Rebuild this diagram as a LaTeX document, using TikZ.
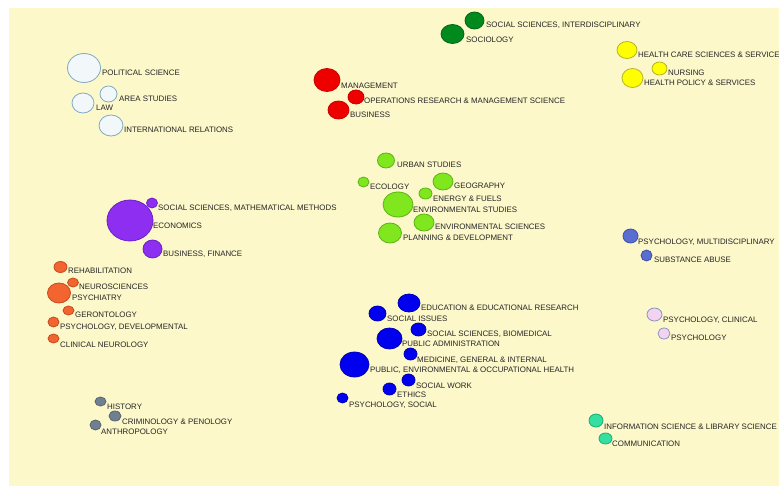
\documentclass[tikz,border=0pt]{standalone}
\usepackage{fontspec}
\setmainfont{Liberation Sans}
\usetikzlibrary{shapes.geometric}

\definecolor{paper}{HTML}{FCF8CA}
\definecolor{fieldtext}{HTML}{262626}
\definecolor{politicsfill}{HTML}{F2F7FA}
\definecolor{politicsline}{HTML}{7FAAC4}
\definecolor{businessfill}{HTML}{EE0000}
\definecolor{businessline}{HTML}{C80000}
\definecolor{sociofill}{HTML}{008A1E}
\definecolor{socioline}{HTML}{006414}
\definecolor{healthfill}{HTML}{FFFF00}
\definecolor{healthline}{HTML}{B4B428}
\definecolor{econfill}{HTML}{8E2EF0}
\definecolor{econline}{HTML}{6A20C8}
\definecolor{psychfill}{HTML}{F26430}
\definecolor{psychline}{HTML}{C84A1C}
\definecolor{envfill}{HTML}{80E61E}
\definecolor{envline}{HTML}{5AB414}
\definecolor{multifill}{HTML}{5A6ED2}
\definecolor{multiline}{HTML}{3C4EAA}
\definecolor{educfill}{HTML}{0000EE}
\definecolor{educline}{HTML}{0000B4}
\definecolor{histfill}{HTML}{708090}
\definecolor{histline}{HTML}{56646E}
\definecolor{clinicfill}{HTML}{F2D4F2}
\definecolor{clinicline}{HTML}{8C94C0}
\definecolor{infofill}{HTML}{34E0A0}
\definecolor{infoline}{HTML}{1EAA78}

\tikzstyle{bubble}=[ellipse, inner sep=0, line width=0.8pt]
\tikzstyle{field}=[anchor=base west, inner sep=0, text=fieldtext,
                   font=\fontsize{7.9}{8}\selectfont]
\tikzstyle{politics}=[bubble, fill=politicsfill, draw=politicsline]
\tikzstyle{business}=[bubble, fill=businessfill, draw=businessline]
\tikzstyle{socio}=[bubble, fill=sociofill, draw=socioline]
\tikzstyle{health}=[bubble, fill=healthfill, draw=healthline]
\tikzstyle{econ}=[bubble, fill=econfill, draw=econline]
\tikzstyle{psych}=[bubble, fill=psychfill, draw=psychline]
\tikzstyle{env}=[bubble, fill=envfill, draw=envline]
\tikzstyle{multi}=[bubble, fill=multifill, draw=multiline]
\tikzstyle{educ}=[bubble, fill=educfill, draw=educline]
\tikzstyle{hist}=[bubble, fill=histfill, draw=histline]
\tikzstyle{clinic}=[bubble, fill=clinicfill, draw=clinicline]
\tikzstyle{info}=[bubble, fill=infofill, draw=infoline]

\begin{document}
\begin{tikzpicture}[x=1pt, y=-1pt]

\useasboundingbox (0, 0) rectangle (779, 486);
\fill [paper] (9, 8) rectangle (779, 486);

%%%%%%%%%%%%%%%%%%
\node (polsci_Bubble) at (84, 68) [politics, minimum width=33, minimum height=29] {};
\node (polsci_Text) at (102, 76) [field] {POLITICAL SCIENCE};

\node (area_Bubble) at (108.5, 94) [politics, minimum width=17, minimum height=16] {};
\node (area_Text) at (119, 102) [field] {AREA STUDIES};

\node (law_Bubble) at (83, 103) [politics, minimum width=22, minimum height=20] {};
\node (law_Text) at (96, 111) [field] {LAW};

\node (intrel_Bubble) at (111, 125.5) [politics, minimum width=24, minimum height=21] {};
\node (intrel_Text) at (124, 133) [field] {INTERNATIONAL RELATIONS};

%%%%%%%%%%%%%%%%%%
\node (management_Bubble) at (327, 80) [business, minimum width=26, minimum height=23] {};
\node (management_Text) at (341, 89) [field] {MANAGEMENT};

\node (opres_Bubble) at (356, 97) [business, minimum width=16, minimum height=14] {};
\node (opres_Text) at (364, 104) [field] {OPERATIONS RESEARCH \& MANAGEMENT SCIENCE};

\node (business_Bubble) at (338.5, 110) [business, minimum width=21, minimum height=18] {};
\node (business_Text) at (350, 118) [field] {BUSINESS};

%%%%%%%%%%%%%%%%%%
\node (socinter_Bubble) at (474.5, 20.5) [socio, minimum width=19, minimum height=17] {};
\node (socinter_Text) at (486, 28) [field] {SOCIAL SCIENCES, INTERDISCIPLINARY};

\node (sociology_Bubble) at (452.5, 34) [socio, minimum width=23, minimum height=19] {};
\node (sociology_Text) at (466, 43) [field] {SOCIOLOGY};

%%%%%%%%%%%%%%%%%%
\node (healthcare_Bubble) at (627, 50) [health, minimum width=20, minimum height=17] {};
\node (healthcare_Text) at (638, 58) [field] {HEALTH CARE SCIENCES \& SERVICES};

\node (nursing_Bubble) at (659.5, 68.5) [health, minimum width=15, minimum height=13] {};
\node (nursing_Text) at (668, 76) [field] {NURSING};

\node (healthpol_Bubble) at (632.5, 78) [health, minimum width=21, minimum height=19] {};
\node (healthpol_Text) at (644, 86) [field] {HEALTH POLICY \& SERVICES};

%%%%%%%%%%%%%%%%%%
\node (mathmeth_Bubble) at (152, 203) [econ, minimum width=11, minimum height=10] {};
\node (mathmeth_Text) at (158, 211) [field] {SOCIAL SCIENCES, MATHEMATICAL METHODS};

\node (economics_Bubble) at (130, 220.5) [econ, minimum width=46, minimum height=41] {};
\node (economics_Text) at (153, 229) [field] {ECONOMICS};

\node (finance_Bubble) at (152.5, 249) [econ, minimum width=19, minimum height=18] {};
\node (finance_Text) at (163, 257) [field] {BUSINESS, FINANCE};

%%%%%%%%%%%%%%%%%%
\node (rehab_Bubble) at (60.5, 267) [psych, minimum width=13, minimum height=11] {};
\node (rehab_Text) at (68, 274) [field] {REHABILITATION};

\node (neuro_Bubble) at (73, 282.5) [psych, minimum width=11, minimum height=9] {};
\node (neuro_Text) at (79, 290) [field] {NEUROSCIENCES};

\node (psychiatry_Bubble) at (59, 293) [psych, minimum width=23, minimum height=20] {};
\node (psychiatry_Text) at (72, 301) [field] {PSYCHIATRY};

\node (geront_Bubble) at (68.5, 310.5) [psych, minimum width=11, minimum height=9] {};
\node (geront_Text) at (75, 318) [field] {GERONTOLOGY};

\node (develop_Bubble) at (53.5, 322) [psych, minimum width=11, minimum height=10] {};
\node (develop_Text) at (60, 330) [field] {PSYCHOLOGY, DEVELOPMENTAL};

\node (clinneuro_Bubble) at (53.5, 338.5) [psych, minimum width=11, minimum height=9] {};
\node (clinneuro_Text) at (60, 347) [field] {CLINICAL NEUROLOGY};

%%%%%%%%%%%%%%%%%%
\node (urban_Bubble) at (386, 160.5) [env, minimum width=17, minimum height=15] {};
\node (urban_Text) at (397, 168) [field] {URBAN STUDIES};

\node (ecology_Bubble) at (363.5, 182) [env, minimum width=11, minimum height=10] {};
\node (ecology_Text) at (370, 190) [field] {ECOLOGY};

\node (geography_Bubble) at (443, 181.5) [env, minimum width=20, minimum height=17] {};
\node (geography_Text) at (454, 189) [field] {GEOGRAPHY};

\node (energy_Bubble) at (425.5, 193.5) [env, minimum width=13, minimum height=11] {};
\node (energy_Text) at (433, 202) [field] {ENERGY \& FUELS};

\node (envstud_Bubble) at (398, 204.5) [env, minimum width=30, minimum height=25] {};
\node (envstud_Text) at (413, 213) [field] {ENVIRONMENTAL STUDIES};

\node (envsci_Bubble) at (424, 222.5) [env, minimum width=20, minimum height=17] {};
\node (envsci_Text) at (435, 230) [field] {ENVIRONMENTAL SCIENCES};

\node (planning_Bubble) at (390, 233) [env, minimum width=23, minimum height=20] {};
\node (planning_Text) at (403, 241) [field] {PLANNING \& DEVELOPMENT};

%%%%%%%%%%%%%%%%%%
\node (multi_Bubble) at (630.5, 236) [multi, minimum width=15, minimum height=14] {};
\node (multi_Text) at (638, 245) [field] {PSYCHOLOGY, MULTIDISCIPLINARY};

\node (abuse_Bubble) at (646.5, 255.5) [multi, minimum width=11, minimum height=11] {};
\node (abuse_Text) at (654, 263) [field] {SUBSTANCE ABUSE};

%%%%%%%%%%%%%%%%%%
\node (education_Bubble) at (409, 303) [educ, minimum width=22, minimum height=18] {};
\node (education_Text) at (421, 311) [field] {EDUCATION \& EDUCATIONAL RESEARCH};

\node (issues_Bubble) at (377.5, 313.5) [educ, minimum width=17, minimum height=15] {};
\node (issues_Text) at (387, 322) [field] {SOCIAL ISSUES};

\node (biomed_Bubble) at (418.5, 329.5) [educ, minimum width=15, minimum height=13] {};
\node (biomed_Text) at (427, 337) [field] {SOCIAL SCIENCES, BIOMEDICAL};

\node (pubadmin_Bubble) at (389.5, 338.5) [educ, minimum width=25, minimum height=21] {};
\node (pubadmin_Text) at (402, 346) [field] {PUBLIC ADMINISTRATION};

\node (medicine_Bubble) at (410.5, 354) [educ, minimum width=13, minimum height=12] {};
\node (medicine_Text) at (417, 362) [field] {MEDICINE, GENERAL \& INTERNAL};

\node (pubhealth_Bubble) at (354.5, 364.5) [educ, minimum width=29, minimum height=25] {};
\node (pubhealth_Text) at (370, 372) [field] {PUBLIC, ENVIRONMENTAL \& OCCUPATIONAL HEALTH};

\node (socwork_Bubble) at (408.5, 380) [educ, minimum width=13, minimum height=12] {};
\node (socwork_Text) at (416, 388) [field] {SOCIAL WORK};

\node (ethics_Bubble) at (389.5, 389) [educ, minimum width=13, minimum height=12] {};
\node (ethics_Text) at (397, 397) [field] {ETHICS};

\node (socpsych_Bubble) at (342.5, 398) [educ, minimum width=11, minimum height=10] {};
\node (socpsych_Text) at (349, 407) [field] {PSYCHOLOGY, SOCIAL};

%%%%%%%%%%%%%%%%%%
\node (history_Bubble) at (100.5, 401.5) [hist, minimum width=11, minimum height=9] {};
\node (history_Text) at (107, 409) [field] {HISTORY};

\node (crimin_Bubble) at (115, 416) [hist, minimum width=12, minimum height=10] {};
\node (crimin_Text) at (122, 424) [field] {CRIMINOLOGY \& PENOLOGY};

\node (anthro_Bubble) at (95.5, 425) [hist, minimum width=11, minimum height=10] {};
\node (anthro_Text) at (101, 434) [field] {ANTHROPOLOGY};

%%%%%%%%%%%%%%%%%%
\node (clinical_Bubble) at (654.5, 314.5) [clinic, minimum width=15, minimum height=13] {};
\node (clinical_Text) at (663, 323) [field] {PSYCHOLOGY, CLINICAL};

\node (psychology_Bubble) at (664, 333.5) [clinic, minimum width=12, minimum height=11] {};
\node (psychology_Text) at (671, 341) [field] {PSYCHOLOGY};

%%%%%%%%%%%%%%%%%%
\node (infosci_Bubble) at (596, 420.5) [info, minimum width=14, minimum height=13] {};
\node (infosci_Text) at (604, 429) [field] {INFORMATION SCIENCE \& LIBRARY SCIENCE};

\node (comm_Bubble) at (605.5, 438.5) [info, minimum width=13, minimum height=11] {};
\node (comm_Text) at (612, 446) [field] {COMMUNICATION};

\end{tikzpicture}
\end{document}
